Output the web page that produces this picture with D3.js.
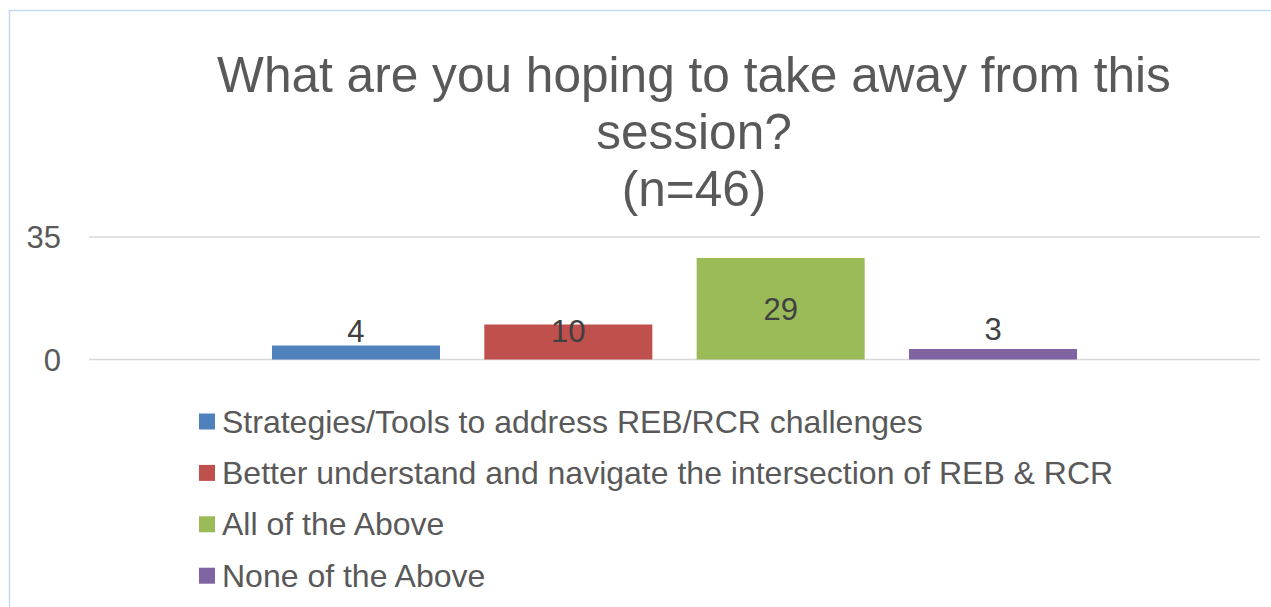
<!DOCTYPE html>
<html>
<head>
<meta charset="utf-8">
<script src="https://cdn.jsdelivr.net/npm/d3@7"></script>
<style>
  html, body { margin: 0; padding: 0; background: #ffffff; }
  svg { display: block; }
  text { font-family: "Liberation Sans", Arial, sans-serif; }
</style>
</head>
<body>
<svg id="chart" width="1271" height="607"></svg>
<script>
// ---- data ----
const titleLines = ["What are you hoping to take away from this", "session?", "(n=46)"];
const categories = [""];
const seriesNames = [
  "Strategies/Tools to address REB/RCR challenges",
  "Better understand and navigate the intersection of REB & RCR",
  "All of the Above",
  "None of the Above"
];
const seriesValues = [4, 10, 29, 3];
const seriesColors = ["#4f81bd", "#c0504d", "#9bbb59", "#8064a2"];
const yTicks = [0, 35];

// ---- layout ----
const svg = d3.select("#chart");
const W = 1271, H = 607;
const plot = { left: 89, right: 1260, top: 237, bottom: 359.5 };

// chart border
svg.append("rect")
  .attr("x", 9.5).attr("y", 10.5)
  .attr("width", W + 20).attr("height", H + 20)
  .attr("fill", "#ffffff")
  .attr("stroke", "#c6d9f1").attr("stroke-width", 1.5);

// title
const title = svg.append("text")
  .attr("text-anchor", "middle")
  .attr("fill", "#595959")
  .attr("font-size", 49.6);
titleLines.forEach((t, i) => {
  title.append("tspan").attr("x", 694).attr("y", 91.5 + i * 57).text(t);
});

const y = d3.scaleLinear().domain([0, 35]).range([plot.bottom, plot.top]);
const x0 = d3.scaleBand().domain(categories).range([plot.left, plot.right]).paddingOuter(0.2273).paddingInner(0);
const x1 = d3.scaleBand().domain(seriesNames).range([0, x0.bandwidth()]).paddingInner(0.2087).paddingOuter(0);

// gridlines
svg.append("g").selectAll("line").data(yTicks).join("line")
  .attr("x1", plot.left).attr("x2", plot.right)
  .attr("y1", d => y(d)).attr("y2", d => y(d))
  .attr("stroke", "#d9d9d9").attr("stroke-width", 1.5);

// y axis labels
const yAxis = d3.axisLeft(y).tickValues(yTicks).tickSize(0).tickPadding(0);
const gy = svg.append("g").attr("transform", `translate(61,0)`).call(yAxis);
gy.select(".domain").remove();
gy.selectAll("text")
  .attr("fill", "#595959")
  .attr("font-size", 31)
  .attr("font-family", "'Liberation Sans', Arial, sans-serif")
  .attr("dy", "0.34em");

// bars
const bars = seriesNames.map((name, i) => ({ name, value: seriesValues[i], color: seriesColors[i], cat: categories[0] }));
svg.append("g").selectAll("rect").data(bars).join("rect")
  .attr("x", d => x0(d.cat) + x1(d.name))
  .attr("y", d => y(d.value))
  .attr("width", x1.bandwidth())
  .attr("height", d => y(0) - y(d.value))
  .attr("fill", d => d.color);

// data labels (offsets from bar top, as laid out in the original)
const labelDy = [-4, 17.5, 61.5, -9];
svg.append("g").selectAll("text").data(bars).join("text")
  .attr("x", d => x0(d.cat) + x1(d.name) + x1.bandwidth() / 2)
  .attr("y", (d, i) => y(d.value) + labelDy[i])
  .attr("text-anchor", "middle")
  .attr("fill", "#404040")
  .attr("font-size", 31)
  .text(d => d.value);

// legend
const lg = svg.append("g").selectAll("g").data(bars).join("g")
  .attr("transform", (d, i) => `translate(199, ${421.5 + i * 51.4})`);
lg.append("rect").attr("x", 0).attr("y", -8).attr("width", 16).attr("height", 16).attr("fill", d => d.color);
lg.append("text").attr("x", 23).attr("y", 11).attr("fill", "#595959").attr("font-size", 32).text(d => d.name);
</script>
</body>
</html>
